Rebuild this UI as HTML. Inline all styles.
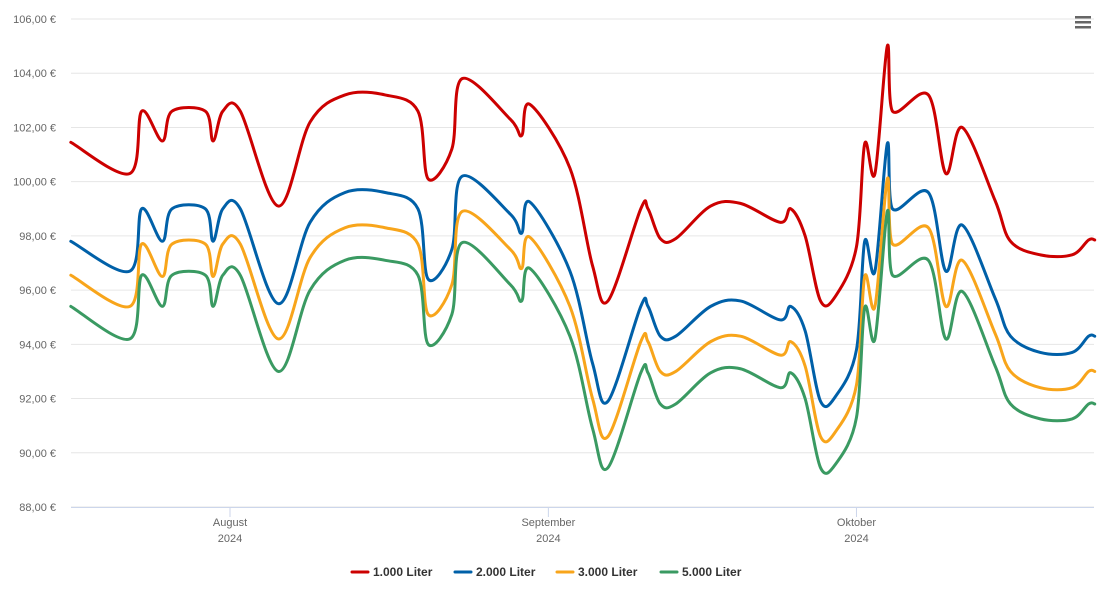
<!DOCTYPE html>
<html><head><meta charset="utf-8"><style>
body{margin:0;background:#fff;font-family:"Liberation Sans",sans-serif}
svg text{font-family:"Liberation Sans",sans-serif}
</style></head><body>
<svg id="chart" width="1105" height="602" xmlns="http://www.w3.org/2000/svg">
<g id="grid"></g>
<g id="yaxis"></g>
<g id="xaxis"></g>
<g id="series"></g>
<g id="legend"></g>
<g transform="translate(1075,16)">
<rect x="0" y="0" width="16" height="2.5" fill="#666"/><rect x="0" y="5" width="16" height="2.5" fill="#666"/><rect x="0" y="10" width="16" height="2.5" fill="#666"/>
</g>
</svg>
<script>
// day offsets from 1 Aug 2024
const days=[-15.5,-9.75,-8.6,-6.6,-5.65,-2.4,-1.65,-0.7,1,4.7,7.8,11.2,15.1,18.3,19.3,21.6,22.6,27.3,28.4,29.2,33.1,35.3,36.8,40,40.7,41.9,43.4,46.8,49.7,53.6,54.6,56,57.5,59,61,61.8,62.8,64,64.5,68,69.7,71.3,74.5,76,78.9,82,83.6,84.2];
const liter1000=[101.45,100.3,102.6,101.5,102.6,102.6,101.5,102.6,102.6,99.1,102.2,103.2,103.2,102.6,100.1,101.2,103.8,102.3,101.7,102.85,100.5,96.9,95.6,99.0,99.0,97.9,97.9,99.1,99.2,98.5,99.0,98.0,95.6,95.8,97.6,101.4,100.3,105.0,102.6,103.2,100.3,102.0,99.3,97.8,97.3,97.3,97.85,97.85];
const liter2000=[97.8,96.7,99.0,97.8,99.0,99.0,97.8,99.0,99.0,95.5,98.5,99.6,99.6,99.0,96.4,97.5,100.2,98.8,98.1,99.25,96.7,93.3,91.9,95.4,95.4,94.3,94.3,95.4,95.6,94.9,95.4,94.5,91.9,92.1,93.8,97.8,96.7,101.4,99.0,99.6,96.7,98.4,95.7,94.3,93.7,93.7,94.3,94.3];
const liter3000=[96.55,95.4,97.7,96.5,97.7,97.7,96.5,97.7,97.7,94.2,97.2,98.3,98.3,97.7,95.1,96.2,98.9,97.5,96.8,97.95,95.4,92.0,90.6,94.1,94.1,93.0,93.0,94.1,94.3,93.6,94.1,93.2,90.6,90.8,92.5,96.5,95.4,100.1,97.7,98.3,95.4,97.1,94.4,93.0,92.4,92.4,93.0,93.0];
const liter5000=[95.4,94.2,96.55,95.4,96.55,96.55,95.4,96.55,96.55,93.0,96.0,97.1,97.1,96.55,94.0,95.1,97.75,96.2,95.6,96.8,94.3,90.9,89.45,92.95,92.95,91.8,91.8,92.95,93.1,92.4,92.95,92.0,89.45,89.6,91.3,95.35,94.2,98.9,96.55,97.1,94.2,95.95,93.2,91.8,91.25,91.25,91.8,91.8];
const yTicks=[88,90,92,94,96,98,100,102,104,106];
const monthDays=[0,31,61];
const monthLabels=["August","September","Oktober"];
const seriesNames=["1.000 Liter","2.000 Liter","3.000 Liter","5.000 Liter"];
const colors=["#cc0000","#0060a8","#f8a51b","#3a9a62"];
const allSeries=[liter1000,liter2000,liter3000,liter5000];

const X0=71,X1=1094,Y0=507,Y1=19;
const xS=d=>230+d*10.27;
const yS=v=>Y0-(v-88)/(106-88)*(Y0-Y1);
const NS="http://www.w3.org/2000/svg";
function mk(tag,attrs,parent){const e=document.createElementNS(NS,tag);for(const k in attrs)e.setAttribute(k,attrs[k]);parent.appendChild(e);return e;}
const grid=document.getElementById('grid'),ya=document.getElementById('yaxis'),xa=document.getElementById('xaxis');
yTicks.forEach(t=>{
 const l=mk('line',{x1:X0,x2:X1,y1:yS(t),y2:yS(t),stroke:'#e6e6e6','stroke-width':1},grid);
 
 
 const tx=mk('text',{x:56,y:yS(t)+4,'text-anchor':'end','font-size':11,fill:'#666'},ya);
 tx.textContent=t.toFixed(2).replace('.',',')+' €';
 
 
});
const ax=mk('line',{x1:X0,x2:X1,y1:Y0+0.5,y2:Y0+0.5,stroke:'#ccd6eb','stroke-width':1},xa);


monthDays.forEach((d,i)=>{
 const x=xS(d);
 const tk=mk('line',{x1:x,x2:x,y1:Y0,y2:Y0+10,stroke:'#ccd6eb'},xa);
 
 
 const t=mk('text',{x:x,y:526,'text-anchor':'middle','font-size':11,fill:'#666'},xa);
 
 
 const a=mk('tspan',{x:x},t);a.textContent=monthLabels[i];
 const b=mk('tspan',{x:x,dy:16},t);b.textContent='2024';
});
function path(vals){
 const p=days.map((d,i)=>[xS(d),yS(vals[i])]);
 let s='M'+p[0][0]+','+p[0][1];
 for(let i=0;i<p.length-1;i++){
  const a=p[i-1]||p[i],b=p[i],c=p[i+1],e=p[i+2]||c;
  let c1x=b[0]+(c[0]-a[0])/6,c1y=b[1]+(c[1]-a[1])/6;
  let c2x=c[0]-(e[0]-b[0])/6,c2y=c[1]-(e[1]-b[1])/6;
  c1x=Math.min(Math.max(c1x,b[0]),c[0]);c2x=Math.min(Math.max(c2x,b[0]),c[0]);
  s+=` C${c1x},${c1y} ${c2x},${c2y} ${c[0]},${c[1]}`;
 }
 return s;
}
const sg=document.getElementById('series'),lg=document.getElementById('legend');
const legX=[352,455,557,661];
allSeries.forEach((vals,i)=>{
 const pth=mk('path',{d:path(vals),fill:'none',stroke:colors[i],'stroke-width':3,'stroke-linejoin':'round','stroke-linecap':'round'},sg);
 
 
 const g=mk('g',{},lg);
 
 
 mk('line',{x1:legX[i],x2:legX[i]+16,y1:572,y2:572,stroke:colors[i],'stroke-width':3,'stroke-linecap':'round'},g);
 const t=mk('text',{x:legX[i]+21,y:576,'font-size':12,'font-weight':'bold',fill:'#333'},g);
 t.textContent=seriesNames[i];
});
</script>
</body></html>
